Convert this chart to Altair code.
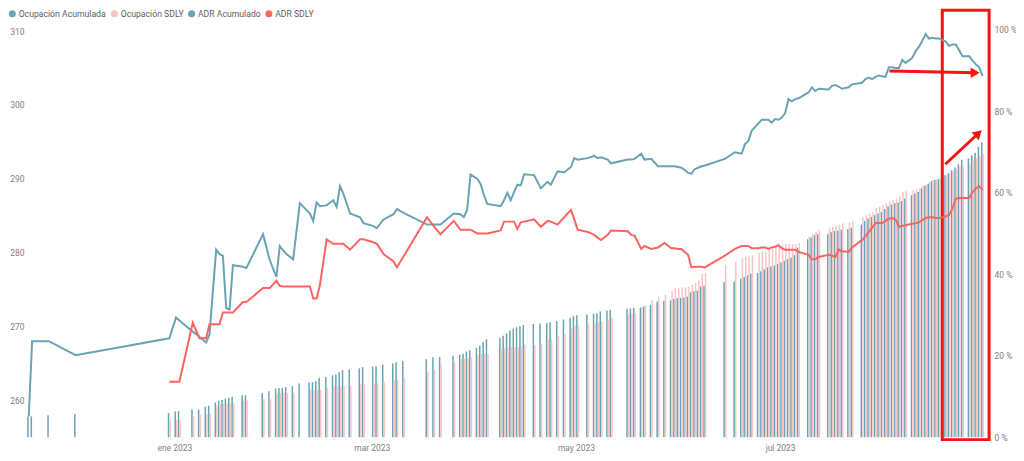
import altair as alt
import pandas as pd
from datetime import datetime, timedelta

# ---- data (day offsets from 1 Jan 2023) ----
dias = [-44, -43, -38, -30, -2, 0, 1, 5, 7, 9,
        10, 12, 13, 14, 15, 16, 17, 20, 21, 26,
        28, 30, 31, 32, 33, 35, 37, 40, 41, 42,
        43, 45, 47, 48, 49, 50, 52, 55, 56, 59,
        60, 62, 65, 66, 68, 75, 77, 79, 83, 85,
        86, 87, 88, 90, 91, 92, 93, 97, 98, 99,
        100, 101, 102, 103, 104, 107, 109, 111, 112, 114,
        116, 118, 119, 120, 123, 125, 126, 127, 129, 130,
        135, 136, 137, 139, 140, 142, 144, 146, 148, 149,
        150, 151, 152, 153, 154, 155, 156, 157, 158, 164,
        167, 169, 170, 171, 172, 174, 175, 176, 177, 178,
        179, 180, 181, 182, 183, 184, 185, 186, 189, 190,
        191, 192, 195, 196, 197, 198, 199, 201, 202, 205,
        206, 207, 208, 209, 210, 211, 212, 213, 214, 215,
        216, 217, 218, 220, 221, 222, 223, 224, 225, 226,
        227, 228, 229, 230, 231, 232, 233, 234, 235, 237,
        238, 239, 240, 241]

ocupacion = [5.1, 5.1, 5.4, 5.6, 5.9, 6.3, 6.4, 6.8, 6.8, 7.5,
             7.7, 8.5, 8.9, 9.1, 9.5, 9.7, 9.9, 10.3, 10.3, 10.8,
             11.3, 11.9, 12.1, 12.1, 12.3, 12.5, 13.2, 13.4, 13.5, 13.8,
             14.6, 14.8, 15.2, 15.4, 16.0, 16.5, 16.6, 16.9, 17.2, 17.3,
             17.4, 17.8, 18.1, 18.4, 18.7, 19.1, 19.6, 19.7, 20.0, 20.3,
             20.5, 21.0, 21.3, 21.9, 22.5, 23.3, 24.0, 24.4, 24.9, 25.5,
             26.2, 26.7, 27.0, 27.2, 27.5, 27.8, 27.9, 28.0, 28.2, 28.5,
             28.9, 29.2, 29.7, 29.9, 30.1, 30.3, 30.5, 30.9, 31.1, 31.3,
             31.5, 31.6, 31.7, 31.8, 32.1, 32.5, 33.3, 33.5, 33.6, 33.9,
             34.1, 34.2, 34.3, 34.5, 35.6, 35.8, 36.0, 37.0, 37.2, 38.0,
             38.2, 38.9, 39.3, 39.7, 40.1, 40.3, 40.7, 41.2, 41.7, 41.9,
             42.1, 42.5, 42.9, 43.3, 43.7, 44.1, 44.7, 46.5, 48.6, 49.0,
             49.6, 49.8, 49.8, 50.3, 50.6, 50.7, 50.9, 51.1, 51.4, 52.2,
             53.1, 53.7, 54.1, 54.5, 54.9, 55.3, 56.0, 56.6, 57.1, 57.4,
             57.6, 58.0, 58.6, 59.4, 59.8, 60.2, 61.1, 61.7, 62.3, 62.8,
             63.1, 63.3, 63.6, 64.3, 64.7, 65.5, 66.2, 67.0, 68.1, 68.4,
             69.2, 69.8, 71.2, 72.4]

ocupacion_sdly = [None, None, None, None, 4.4, 4.2, 4.2, 5.2, 5.6, 5.6,
                  5.8, 7.7, 8.1, 8.2, 8.3, 8.3, 8.3, 9.0, 9.0, 9.3,
                  9.3, 10.8, 10.8, 10.9, 10.9, 10.9, None, 11.6, 11.6, 11.6,
                  11.6, 12.1, 12.5, 12.5, 12.5, 12.5, 12.5, 13.0, 13.0, 13.2,
                  13.2, 13.5, 14.0, 14.0, 14.5, 16.1, 16.6, 17.9, 18.4, 19.2,
                  19.2, 19.5, 19.6, 20.3, 20.5, 20.5, 20.5, 21.7, 21.9, 22.1,
                  22.1, 22.1, 22.1, 22.3, 22.6, 22.7, 22.9, 24.0, 24.0, 24.8,
                  25.4, 26.7, 27.2, 27.5, 27.9, 28.0, 28.3, 28.4, 28.9, 29.3,
                  30.1, 30.3, 30.5, 32.0, 32.3, 33.7, 34.4, 34.9, 35.9, 36.6,
                  36.6, 36.8, 36.8, 37.0, 37.4, 37.8, 38.5, 40.1, 40.3, 42.3,
                  43.0, 43.9, 44.2, 44.6, 44.7, 45.3, 45.6, 45.6, 46.0, 46.2,
                  46.8, 47.0, 47.2, 47.4, 47.4, 47.4, 47.4, 47.6, 49.3, 49.8,
                  50.4, 50.8, 51.2, 51.6, 51.9, 52.1, 52.5, 52.7, 53.0, 54.1,
                  54.5, 54.9, 55.3, 56.3, 56.6, 57.0, 57.4, 57.8, 58.2, 58.6,
                  59.0, 60.2, 60.4, 60.6, 60.8, 61.1, 61.7, 62.0, 62.7, 63.1,
                  63.3, 63.5, 63.9, 64.3, 64.8, 65.3, 65.8, 66.3, 66.8, 67.2,
                  68.0, 68.4, 69.0, 69.6]

adr = [257.8, 268.0, 268.0, 266.1, 268.4, 271.2, 270.8, 269.3, 268.6, 267.8,
       268.9, 280.4, 279.8, 279.6, 272.5, 272.3, 278.3, 278.1, 277.9, 282.5,
       279.0, 276.7, 280.9, 280.3, 279.8, 279.1, 286.7, 285.3, 284.3, 286.8,
       286.3, 286.4, 287.1, 286.2, 289.0, 288.0, 285.3, 284.8, 284.0, 283.6,
       283.3, 284.5, 285.2, 285.9, 285.4, 283.8, 283.8, 283.8, 285.3, 285.2,
       284.8, 285.8, 290.6, 290.0, 289.3, 287.8, 286.6, 286.3, 287.1, 288.1,
       287.1, 288.2, 289.2, 289.1, 290.6, 290.5, 288.7, 289.6, 289.2, 291.0,
       290.9, 291.6, 292.8, 292.6, 292.8, 293.1, 292.8, 292.9, 292.6, 292.1,
       292.6, 292.6, 292.7, 293.4, 292.6, 292.7, 291.7, 291.7, 291.7, 291.7,
       291.6, 291.5, 291.2, 290.8, 290.7, 291.3, 291.5, 291.7, 291.8, 292.7,
       293.6, 293.4, 294.7, 295.1, 296.5, 297.5, 298.0, 298.0, 298.0, 297.6,
       298.1, 298.0, 298.3, 298.9, 300.8, 300.5, 300.8, 300.9, 301.7, 302.4,
       301.9, 302.2, 302.1, 302.6, 302.7, 302.5, 302.2, 302.4, 302.8, 303.0,
       303.5, 303.7, 303.5, 303.8, 304.0, 303.9, 303.8, 305.1, 305.1, 305.0,
       305.0, 306.1, 305.7, 306.4, 307.3, 307.9, 308.7, 309.6, 309.0, 309.1,
       309.0, 309.0, 308.8, 308.6, 308.0, 308.2, 308.2, 307.4, 306.6, 306.6,
       306.0, 305.5, 305.1, 303.9]

adr_sdly = [None, None, None, None, 262.5, 262.5, 262.5, 270.5, 268.4, 268.4,
            270.3, 270.3, 270.3, 271.9, 271.9, 271.9, 271.9, 273.3, 273.3, 275.2,
            275.2, 276.2, 275.5, 275.4, 275.4, 275.4, 275.4, 275.4, 273.8, 273.8,
            275.6, 281.8, 281.2, 281.2, 281.2, 281.2, 280.4, 281.8, 281.8, 281.4,
            281.2, 279.8, 278.8, 278.0, 279.5, 284.8, 283.6, 282.5, 284.3, 283.1,
            283.1, 283.1, 283.1, 282.6, 282.6, 282.6, 282.6, 283.0, 284.2, 284.2,
            284.2, 284.2, 283.2, 284.1, 284.2, 284.5, 283.5, 284.3, 284.2, 283.8,
            284.8, 285.8, 284.5, 283.1, 282.8, 282.4, 282.0, 281.7, 282.4, 283.0,
            282.9, 282.4, 282.3, 280.5, 280.9, 280.5, 280.7, 281.3, 280.6, 280.6,
            280.5, 280.5, 280.1, 279.7, 278.0, 278.1, 278.1, 278.1, 278.0, 279.6,
            280.5, 280.9, 280.9, 280.9, 280.6, 280.6, 280.7, 280.7, 280.5, 280.7,
            280.8, 281.0, 280.6, 280.4, 280.4, 280.4, 280.4, 280.1, 279.7, 279.1,
            279.1, 279.4, 279.7, 279.6, 279.4, 280.4, 280.2, 280.1, 280.7, 281.7,
            282.2, 282.8, 283.4, 284.0, 284.0, 284.0, 284.3, 284.6, 284.7, 284.5,
            283.5, 283.6, 283.7, 283.9, 284.0, 284.1, 284.4, 284.7, 284.8, 284.8,
            284.7, 284.7, 284.8, 284.9, 285.1, 286.0, 287.3, 287.4, 287.4, 287.4,
            288.2, 288.7, 289.0, 288.5]

series = ["Ocupación Acumulada", "Ocupación SDLY", "ADR Acumulado", "ADR SDLY"]
meses = ["ene", "feb", "mar", "abr", "may", "jun", "jul", "ago", "sep", "oct", "nov", "dic"]

# annotation (red box and arrows drawn on the screenshot), in data units
caja_x = ["2023-08-18T11:02:00", "2023-09-01T10:48:00"]
caja_y = [104.8, -0.6]
flecha_h_x = ["2023-08-02T16:34:00", "2023-08-28T06:58:00"]
flecha_h_y = [304.59, 304.38]
flecha_d_x = ["2023-08-19T08:38:00", "2023-08-29T06:28:00"]
flecha_d_y = [291.97, 296.17]

# ---- build tables ----
inicio = datetime(2023, 1, 1, 12)
fechas = [(inicio + timedelta(days=d)).strftime("%Y-%m-%dT%H:%M:%S") for d in dias]
n = len(fechas)

barras = pd.DataFrame({
    "fecha": fechas * 2,
    "serie": [series[0]] * n + [series[1]] * n,
    "valor": ocupacion + ocupacion_sdly,
}).dropna()

lineas = pd.DataFrame({
    "fecha": fechas * 2,
    "serie": [series[2]] * n + [series[3]] * n,
    "valor": adr + adr_sdly,
}).dropna()

caja = pd.DataFrame({"fecha": [caja_x[0]], "fecha2": [caja_x[1]],
                     "valor": [caja_y[0]], "valor2": [caja_y[1]]})
flechas = pd.DataFrame({
    "fecha": [flecha_h_x[0], flecha_d_x[0]], "fecha2": [flecha_h_x[1], flecha_d_x[1]],
    "valor": [flecha_h_y[0], flecha_d_y[0]], "valor2": [flecha_h_y[1], flecha_d_y[1]],
})
punta_h = pd.DataFrame({"fecha": [flecha_h_x[1]], "valor": [flecha_h_y[1]]})
punta_d = pd.DataFrame({"fecha": [flecha_d_x[1]], "valor": [flecha_d_y[1]]})

# ---- styling ----
FONT = "Roboto"
TEAL = "#6aa3b4"
PINK = "#fbc4c4"
RED = "#fd6461"
ANNOT = "#f51414"
GRAY = "#808080"

color_scale = alt.Scale(domain=series, range=[TEAL, PINK, TEAL, RED])

x_scale = alt.Scale(domain=[alt.DateTime(year=2022, month=11, date=18, hours=6),
                            alt.DateTime(year=2023, month=9, date=1, hours=10, minutes=48)],
                    nice=False, padding=0)
x_axis = alt.Axis(
    values=[alt.DateTime(year=2023, month=m, date=1) for m in (1, 3, 5, 7)],
    labelExpr="%s[month(datum.value)] + ' ' + year(datum.value)" % str(meses),
    title=None, grid=False, ticks=False, domain=False,
    labelPadding=6, labelFontSize=8.5, labelColor=GRAY, labelFont=FONT,
)

y_right = alt.Scale(domain=[0, 102.2], nice=False, zero=False)
y_right_axis = alt.Axis(orient="right", values=[0, 20, 40, 60, 80, 100],
                        labelExpr="datum.value + ' %'", title=None, grid=False,
                        ticks=False, domain=False, labelPadding=5,
                        labelFontSize=8.5, labelColor=GRAY, labelFont=FONT)
y_left = alt.Scale(domain=[255, 311.4], nice=False, zero=False)
y_left_axis = alt.Axis(orient="left", values=[260, 270, 280, 290, 300, 310],
                       title=None, grid=False, ticks=False, domain=False,
                       labelPadding=4, labelFontSize=8.5, labelColor=GRAY, labelFont=FONT)

leyenda = alt.Legend(title=None, orient="none", legendX=-20, legendY=-12,
                     direction="horizontal", symbolType="circle", symbolSize=50,
                     symbolStrokeWidth=0, labelFont=FONT, labelFontSize=8.7,
                     labelColor="#605e5c", labelOffset=2, columnPadding=3.5, padding=0)

X = alt.X("fecha:T", scale=x_scale, axis=x_axis)
YR = alt.Y("valor:Q", scale=y_right, axis=y_right_axis)
YL = alt.Y("valor:Q", scale=y_left, axis=y_left_axis)

base_barras = alt.Chart(barras)
teal_bars = base_barras.transform_filter(alt.datum.serie == series[0]).mark_bar(
    size=1.5, xOffset=-0.8).encode(
    x=X, y=YR, color=alt.Color("serie:N", scale=color_scale, legend=leyenda))
pink_bars = base_barras.transform_filter(alt.datum.serie == series[1]).mark_bar(
    size=1.5, xOffset=0.8).encode(
    x=X, y=YR, color=alt.Color("serie:N", scale=color_scale, legend=leyenda))
caja_layer = alt.Chart(caja).mark_rect(fillOpacity=0, stroke=ANNOT, strokeWidth=3).encode(
    x=X, x2="fecha2:T", y=YR, y2="valor2:Q")
grupo_barras = alt.layer(teal_bars, pink_bars, caja_layer)

line_layer = alt.Chart(lineas).mark_line(strokeWidth=2).encode(
    x=X, y=YL,
    color=alt.Color("serie:N", scale=color_scale, legend=None),
    detail="serie:N",
)
flechas_layer = alt.Chart(flechas).mark_rule(color=ANNOT, strokeWidth=3).encode(
    x=X, x2="fecha2:T", y=YL, y2="valor2:Q")
punta_h_layer = alt.Chart(punta_h).mark_point(shape="triangle-up", filled=True, size=110,
                                              color=ANNOT, opacity=1, angle=90).encode(x=X, y=YL)
punta_d_layer = alt.Chart(punta_d).mark_point(shape="triangle-up", filled=True, size=110,
                                              color=ANNOT, opacity=1, angle=47).encode(x=X, y=YL)
grupo_lineas = alt.layer(line_layer, flechas_layer, punta_h_layer, punta_d_layer)

chart = alt.layer(grupo_barras, grupo_lineas).resolve_scale(y="independent").properties(
    width=965, height=418,
    padding={"left": 20, "top": 12, "right": 27, "bottom": 15},
    autosize=alt.AutoSizeParams(type="none"),
    background="white",
).configure_view(stroke=None)

chart.save("out.html", embed_options={"renderer": "svg", "actions": False})
